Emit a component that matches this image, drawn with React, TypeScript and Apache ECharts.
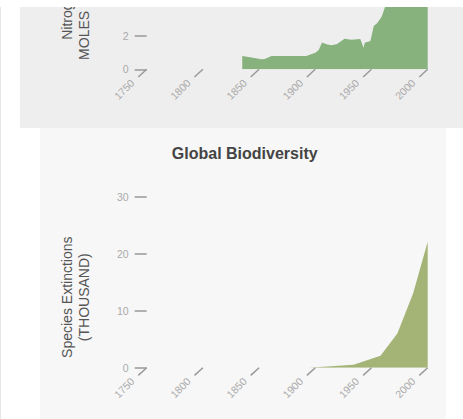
import { useEffect, useRef } from "react";
import * as echarts from "echarts";

// ---- Data ----
const tickYears = [1750, 1800, 1850, 1900, 1950, 2000];

const nitrogenYears = [1835, 1842, 1852, 1855, 1861, 1892, 1900, 1903, 1906, 1910, 1914, 1919, 1926, 1932, 1940, 1943, 1944, 1949, 1952, 1955, 1959, 1962, 1970, 1980, 1990, 2000];
const nitrogenValues = [0.79, 0.71, 0.6, 0.61, 0.79, 0.79, 0.99, 1.15, 1.6, 1.49, 1.43, 1.49, 1.82, 1.76, 1.8, 1.29, 1.58, 1.68, 2.58, 2.74, 3.13, 3.69, 5.2, 7.0, 8.4, 9.4];

const bioYears = [1894, 1934, 1958, 1973, 1987, 2000];
const bioValues = [0, 0.5, 2.1, 6.0, 13.0, 22.1];

const nitrogenTitle = "Nitrogen Flux\nMOLES PER YEAR";
const bioTitle = "Global Biodiversity";
const bioAxisName = "Species Extinctions\n(THOUSAND)";

const FONT = "'Liberation Sans', Arial, Helvetica, sans-serif";
const TICK_COLOR = "#999999";
const LABEL_COLOR = "#aaaaaa";

function tickRenderer(_params: any, api: any) {
  const year = api.value(0);
  const p = api.coord([year, 0]);
  return {
    type: "group",
    children: [
      {
        type: "line",
        shape: { x1: p[0], y1: p[1], x2: p[0] - 8.4, y2: p[1] + 7.7 },
        style: { stroke: TICK_COLOR, lineWidth: 1.5 },
      },
      {
        type: "text",
        x: p[0] - 14,
        y: p[1] + 12,
        rotation: Math.PI / 4,
        style: {
          text: String(year),
          fill: LABEL_COLOR,
          fontSize: 10.5,
          fontFamily: FONT,
          align: "right",
          verticalAlign: "middle",
        },
      },
    ],
  };
}

function yAxisCommon(max: number, interval: number, name: string, namePadding: number[]) {
  return {
    type: "value",
    min: 0,
    max,
    interval,
    name,
    nameLocation: "middle",
    nameGap: 54,
    nameTextStyle: {
      color: "#555555",
      fontSize: 14,
      fontFamily: FONT,
      lineHeight: 17,
      padding: namePadding,
    },
    axisLine: { show: false },
    axisTick: { show: true, length: 12, lineStyle: { color: TICK_COLOR, width: 1.5 } },
    axisLabel: {
      color: LABEL_COLOR,
      fontSize: 10.5,
      fontFamily: FONT,
      margin: 18,
      padding: [0, 0, 7, 0],
    },
    splitLine: { show: false },
  };
}

function xAxisCommon(gridIndex: number) {
  return {
    type: "value",
    gridIndex,
    min: 1750,
    max: 2000,
    interval: 50,
    axisLine: { show: false },
    axisTick: { show: false },
    axisLabel: { show: false },
    splitLine: { show: false },
  };
}

export default function App() {
  const ref = useRef<HTMLDivElement>(null);

  useEffect(() => {
    if (!ref.current) return;
    const chart = echarts.init(ref.current, null, { renderer: "svg" });
    const option: any = {
      animation: false,
      textStyle: { fontFamily: FONT },
      title: {
        text: bioTitle,
        left: 244.7,
        textAlign: "center",
        top: 145,
        padding: 0,
        textStyle: { color: "#444444", fontSize: 16, fontWeight: "bold", fontFamily: FONT },
      },
      graphic: [
        { type: "rect", z: -10, shape: { x: 0, y: 7, width: 1, height: 412 }, style: { fill: "#e6e6e6" } },
        { type: "rect", z: -10, shape: { x: 20, y: 7, width: 443, height: 121 }, style: { fill: "#eeeeee" } },
        { type: "rect", z: -10, shape: { x: 40, y: 128, width: 406, height: 291 }, style: { fill: "#f7f7f7" } },
        { type: "rect", z: 100, shape: { x: 0, y: 0, width: 463, height: 7 }, style: { fill: "#ffffff" } },
      ],
      grid: [
        { left: 146.7, right: 35.3, top: 2.1, height: 67.2, outerBoundsMode: "none" },
        { left: 146.7, right: 35.3, top: 196.7, height: 171, outerBoundsMode: "none" },
      ],
      xAxis: [xAxisCommon(0), xAxisCommon(1)],
      yAxis: [
        { ...yAxisCommon(4, 2, nitrogenTitle, [0, 0, 0, 75]), gridIndex: 0 },
        { ...yAxisCommon(30, 10, bioAxisName, [0, 30, 0, 0]), gridIndex: 1 },
      ],
      series: [
        {
          type: "line",
          xAxisIndex: 0,
          yAxisIndex: 0,
          data: nitrogenYears.map((y, i) => [y, nitrogenValues[i]]),
          symbol: "none",
          lineStyle: { width: 0 },
          areaStyle: { color: "#87b27e", opacity: 1 },
          z: 2,
        },
        {
          type: "line",
          xAxisIndex: 1,
          yAxisIndex: 1,
          data: bioYears.map((y, i) => [y, bioValues[i]]),
          symbol: "none",
          lineStyle: { width: 0 },
          areaStyle: { color: "#a4b476", opacity: 1 },
          z: 2,
        },
        {
          type: "custom",
          xAxisIndex: 0,
          yAxisIndex: 0,
          clip: false,
          data: tickYears.map((y) => [y, 0]),
          renderItem: tickRenderer,
          z: 3,
        },
        {
          type: "custom",
          xAxisIndex: 1,
          yAxisIndex: 1,
          clip: false,
          data: tickYears.map((y) => [y, 0]),
          renderItem: tickRenderer,
          z: 3,
        },
      ],
    };
    chart.setOption(option);
    return () => chart.dispose();
  }, []);

  return (
    <div
      ref={ref}
      style={{ position: "absolute", left: 0, top: 0, width: 463, height: 419 }}
    />
  );
}
